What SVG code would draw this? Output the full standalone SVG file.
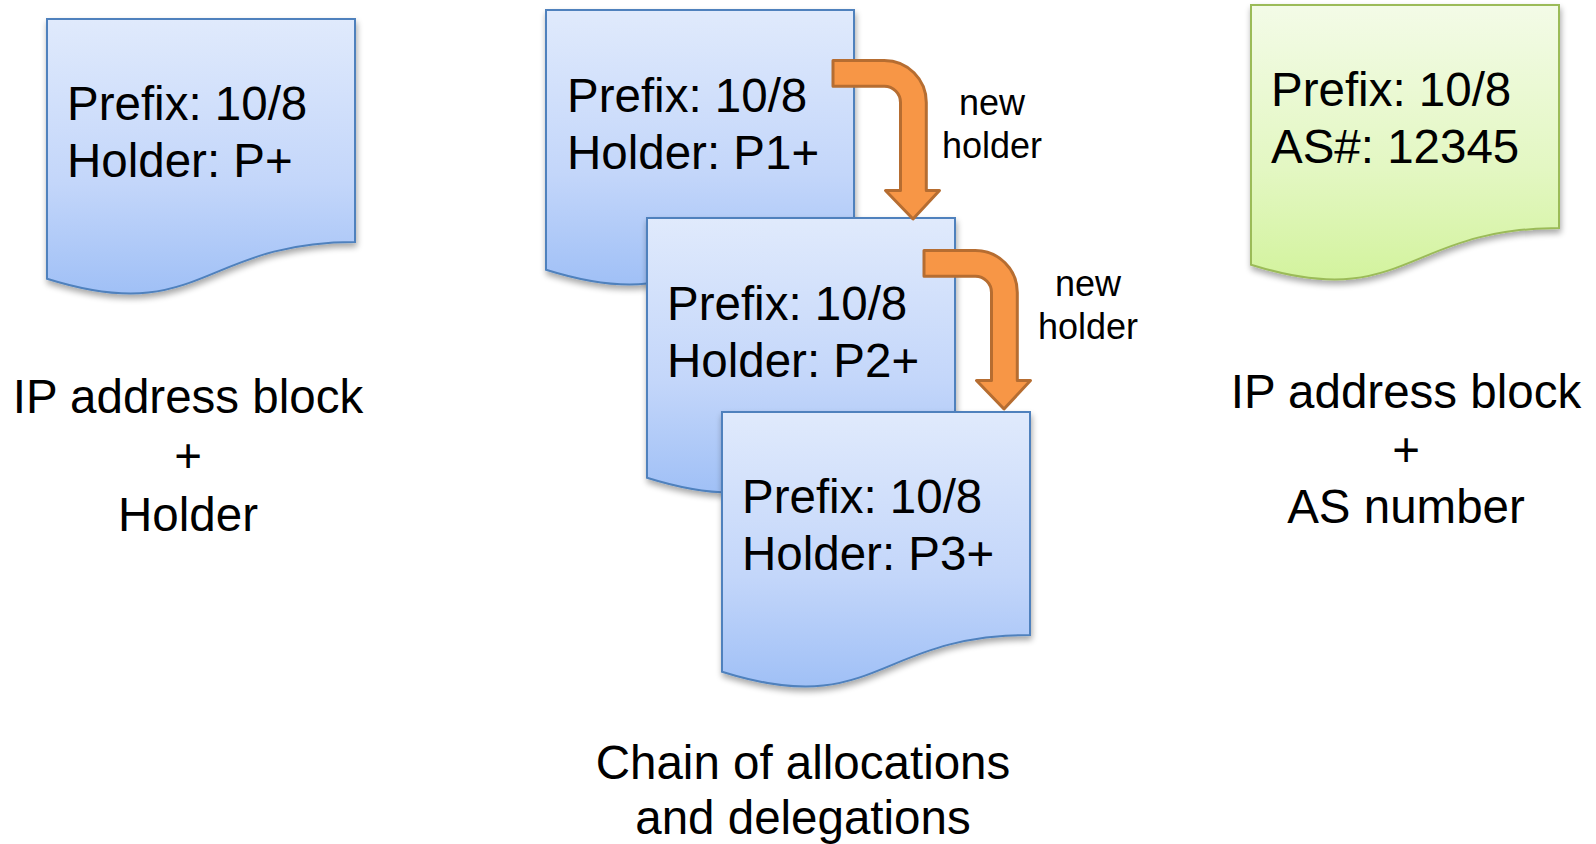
<svg xmlns="http://www.w3.org/2000/svg" xmlns:xlink="http://www.w3.org/1999/xlink" width="1596" height="844" viewBox="0 0 1596 844">
  <style>
    .doc-blue { fill: url(#gBlue); stroke: #4F81BD; stroke-width: 2; filter: url(#shadow); }
    .doc-green { fill: url(#gGreen); stroke: #9BBB59; stroke-width: 2; filter: url(#shadow); }
    .t { font-family: "Liberation Sans", Arial, sans-serif; font-size: 47.5px; fill: #000; }
    .c { text-anchor: middle; }
    .s { font-family: "Liberation Sans", Arial, sans-serif; font-size: 36px; fill: #000; text-anchor: middle; }
    .arrow { fill: #F79646; stroke: #B66D31; stroke-width: 3; stroke-linejoin: round; }
  </style>
  <defs>
    <linearGradient id="gBlue" x1="0" y1="0" x2="0" y2="1">
      <stop offset="0" stop-color="#E0EAFC"/>
      <stop offset="0.6" stop-color="#C3D6FA"/>
      <stop offset="1" stop-color="#A0C0F6"/>
    </linearGradient>
    <linearGradient id="gGreen" x1="0" y1="0" x2="0" y2="1">
      <stop offset="0" stop-color="#F3FBE7"/>
      <stop offset="0.6" stop-color="#E3F7C2"/>
      <stop offset="1" stop-color="#D3F39E"/>
    </linearGradient>
    <filter id="shadow" x="-10%" y="-10%" width="125%" height="125%">
      <feGaussianBlur in="SourceAlpha" stdDeviation="3"/>
      <feOffset dx="1" dy="4" result="b"/>
      <feComponentTransfer><feFuncA type="linear" slope="0.35"/></feComponentTransfer>
      <feMerge><feMergeNode/><feMergeNode in="SourceGraphic"/></feMerge>
    </filter>
    <path id="docShape" d="M0,0 H308 V223 C154,223 154,308 0,259.7 Z"/>
  </defs>

  <g id="doc1" transform="translate(47,19)">
    <use xlink:href="#docShape" href="#docShape" class="doc-blue"/>
    <text class="t" x="20" y="101">Prefix: 10/8</text>
    <text class="t" x="20" y="158">Holder: P+</text>
  </g>

  <g id="doc2" transform="translate(546,10)">
    <use xlink:href="#docShape" href="#docShape" class="doc-blue"/>
    <text class="t" x="21" y="102">Prefix: 10/8</text>
    <text class="t" x="21" y="159">Holder: P1+</text>
  </g>

  <g id="doc3" transform="translate(647,218)">
    <use xlink:href="#docShape" href="#docShape" class="doc-blue"/>
    <text class="t" x="20" y="102">Prefix: 10/8</text>
    <text class="t" x="20" y="159">Holder: P2+</text>
  </g>

  <g id="doc4" transform="translate(722,412)">
    <use xlink:href="#docShape" href="#docShape" class="doc-blue"/>
    <text class="t" x="20" y="101">Prefix: 10/8</text>
    <text class="t" x="20" y="158">Holder: P3+</text>
  </g>

  <g id="doc5" transform="translate(1251,5)">
    <use xlink:href="#docShape" href="#docShape" class="doc-green"/>
    <text class="t" x="20" y="101">Prefix: 10/8</text>
    <text class="t" x="20" y="158">AS#: 12345</text>
  </g>

  <g id="connectors">
    <path id="arrow1" class="arrow" d="M833,60.5 H884.3 A42 42 0 0 1 926.3,102.5 V190.5 H939.5 L913,219 L885.5,190.5 H900.5 V102.5 A16.2 16.2 0 0 0 884.3,86.3 H833 Z"/>
    <path id="arrow2" class="arrow" transform="translate(91,190)" d="M833,60.5 H884.3 A42 42 0 0 1 926.3,102.5 V190.5 H939.5 L913,219 L885.5,190.5 H900.5 V102.5 A16.2 16.2 0 0 0 884.3,86.3 H833 Z"/>
  </g>

  <g id="label-arrow1">
    <text class="s" x="992" y="115">new</text>
    <text class="s" x="992" y="158">holder</text>
  </g>
  <g id="label-arrow2">
    <text class="s" x="1088" y="296">new</text>
    <text class="s" x="1088" y="339">holder</text>
  </g>

  <g id="caption-left">
    <text class="t c" x="188" y="413">IP address block</text>
    <text class="t c" x="188" y="472">+</text>
    <text class="t c" x="188" y="531">Holder</text>
  </g>
  <g id="caption-middle">
    <text class="t c" x="803" y="779">Chain of allocations</text>
    <text class="t c" x="803" y="834">and delegations</text>
  </g>
  <g id="caption-right">
    <text class="t c" x="1406" y="408">IP address block</text>
    <text class="t c" x="1406" y="466">+</text>
    <text class="t c" x="1406" y="523">AS number</text>
  </g>
</svg>
